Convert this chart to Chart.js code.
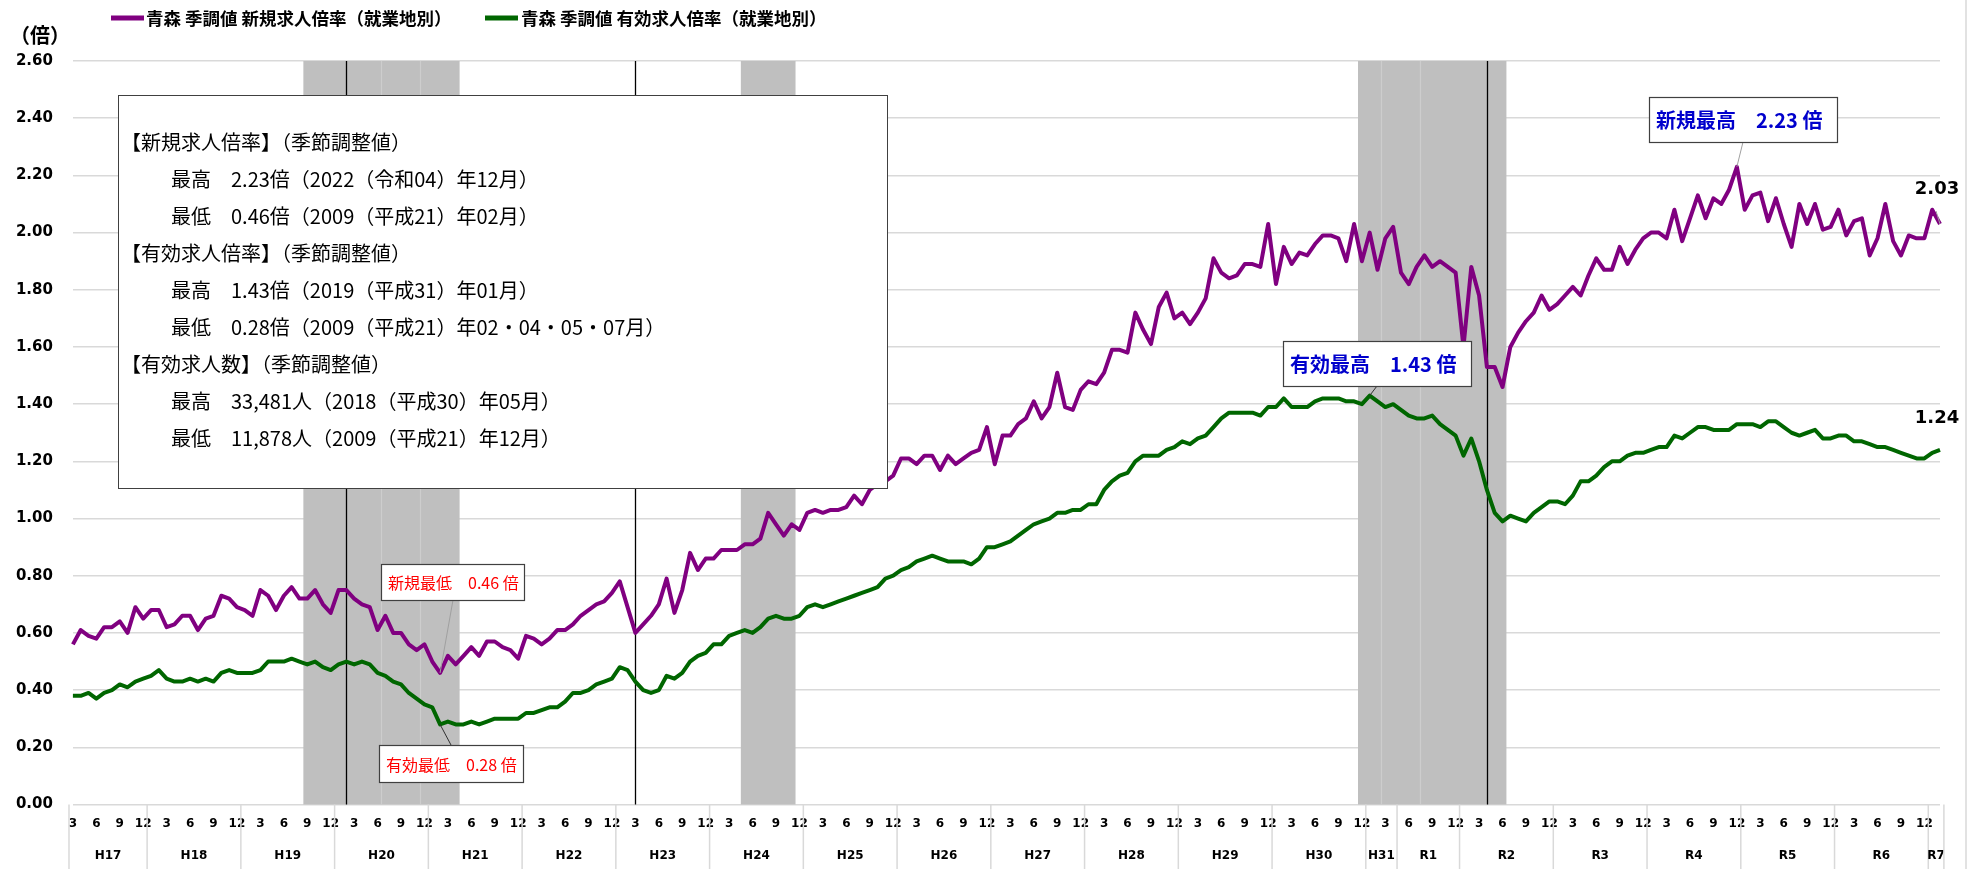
<!DOCTYPE html>
<html lang="ja">
<head>
<meta charset="utf-8">
<title>青森 求人倍率（季節調整値）</title>
<script src="https://cdn.jsdelivr.net/npm/chart.js@4/dist/chart.umd.min.js"></script>
<style>
  html, body { margin: 0; padding: 0; background: #fff; }
  #wrap { width: 1984px; height: 869px; }
</style>
</head>
<body>
<div id="wrap"><canvas id="chart" width="1984" height="869"></canvas></div>
<script>
// ===== データ =====
// [年区分ラベル, 西暦, 開始月, 月数]
const yearGroups = [
  ['H17', 2005, 3, 10], ['H18', 2006, 1, 12], ['H19', 2007, 1, 12], ['H20', 2008, 1, 12],
  ['H21', 2009, 1, 12], ['H22', 2010, 1, 12], ['H23', 2011, 1, 12], ['H24', 2012, 1, 12],
  ['H25', 2013, 1, 12], ['H26', 2014, 1, 12], ['H27', 2015, 1, 12], ['H28', 2016, 1, 12],
  ['H29', 2017, 1, 12], ['H30', 2018, 1, 12], ['H31', 2019, 1, 4],  ['R1', 2019, 5, 8],
  ['R2', 2020, 1, 12],  ['R3', 2021, 1, 12],  ['R4', 2022, 1, 12],  ['R5', 2023, 1, 12],
  ['R6', 2024, 1, 12],  ['R7', 2025, 1, 2],
];

// 新規求人倍率（季節調整値）
const newRatio = [
  0.56, 0.61, 0.59, 0.58, 0.62, 0.62, 0.64, 0.60, 0.69, 0.65,
  0.68, 0.68, 0.62, 0.63, 0.66, 0.66, 0.61, 0.65, 0.66, 0.73, 0.72, 0.69,
  0.68, 0.66, 0.75, 0.73, 0.68, 0.73, 0.76, 0.72, 0.72, 0.75, 0.70, 0.67,
  0.75, 0.75, 0.72, 0.70, 0.69, 0.61, 0.66, 0.60, 0.60, 0.56, 0.54, 0.56,
  0.50, 0.46, 0.52, 0.49, 0.52, 0.55, 0.52, 0.57, 0.57, 0.55, 0.54, 0.51,
  0.59, 0.58, 0.56, 0.58, 0.61, 0.61, 0.63, 0.66, 0.68, 0.70, 0.71, 0.74,
  0.78, 0.69, 0.60, 0.63, 0.66, 0.70, 0.79, 0.67, 0.75, 0.88, 0.82, 0.86,
  0.86, 0.89, 0.89, 0.89, 0.91, 0.91, 0.93, 1.02, 0.98, 0.94, 0.98, 0.96,
  1.02, 1.03, 1.02, 1.03, 1.03, 1.04, 1.08, 1.05, 1.10, 1.12, 1.13, 1.15,
  1.21, 1.21, 1.19, 1.22, 1.22, 1.17, 1.22, 1.19, 1.21, 1.23, 1.24, 1.32,
  1.19, 1.29, 1.29, 1.33, 1.35, 1.41, 1.35, 1.39, 1.51, 1.39, 1.38, 1.45,
  1.48, 1.47, 1.51, 1.59, 1.59, 1.58, 1.72, 1.66, 1.61, 1.74, 1.79, 1.70,
  1.72, 1.68, 1.72, 1.77, 1.91, 1.86, 1.84, 1.85, 1.89, 1.89, 1.88, 2.03,
  1.82, 1.95, 1.89, 1.93, 1.92, 1.96, 1.99, 1.99, 1.98, 1.90, 2.03, 1.90,
  2.00, 1.87, 1.98, 2.02, 1.86, 1.82, 1.88, 1.92, 1.88, 1.90, 1.88, 1.86,
  1.60, 1.88, 1.78, 1.53, 1.53, 1.46, 1.60, 1.65, 1.69, 1.72, 1.78, 1.73,
  1.75, 1.78, 1.81, 1.78, 1.85, 1.91, 1.87, 1.87, 1.95, 1.89, 1.94, 1.98,
  2.00, 2.00, 1.98, 2.08, 1.97, 2.05, 2.13, 2.05, 2.12, 2.10, 2.15, 2.23,
  2.08, 2.13, 2.14, 2.04, 2.12, 2.03, 1.95, 2.10, 2.03, 2.10, 2.01, 2.02,
  2.08, 1.99, 2.04, 2.05, 1.92, 1.98, 2.10, 1.97, 1.92, 1.99, 1.98, 1.98,
  2.08, 2.03,
];

// 有効求人倍率（季節調整値）
const activeRatio = [
  0.38, 0.38, 0.39, 0.37, 0.39, 0.40, 0.42, 0.41, 0.43, 0.44,
  0.45, 0.47, 0.44, 0.43, 0.43, 0.44, 0.43, 0.44, 0.43, 0.46, 0.47, 0.46,
  0.46, 0.46, 0.47, 0.50, 0.50, 0.50, 0.51, 0.50, 0.49, 0.50, 0.48, 0.47,
  0.49, 0.50, 0.49, 0.50, 0.49, 0.46, 0.45, 0.43, 0.42, 0.39, 0.37, 0.35,
  0.34, 0.28, 0.29, 0.28, 0.28, 0.29, 0.28, 0.29, 0.30, 0.30, 0.30, 0.30,
  0.32, 0.32, 0.33, 0.34, 0.34, 0.36, 0.39, 0.39, 0.40, 0.42, 0.43, 0.44,
  0.48, 0.47, 0.43, 0.40, 0.39, 0.40, 0.45, 0.44, 0.46, 0.50, 0.52, 0.53,
  0.56, 0.56, 0.59, 0.60, 0.61, 0.60, 0.62, 0.65, 0.66, 0.65, 0.65, 0.66,
  0.69, 0.70, 0.69, 0.70, 0.71, 0.72, 0.73, 0.74, 0.75, 0.76, 0.79, 0.80,
  0.82, 0.83, 0.85, 0.86, 0.87, 0.86, 0.85, 0.85, 0.85, 0.84, 0.86, 0.90,
  0.90, 0.91, 0.92, 0.94, 0.96, 0.98, 0.99, 1.00, 1.02, 1.02, 1.03, 1.03,
  1.05, 1.05, 1.10, 1.13, 1.15, 1.16, 1.20, 1.22, 1.22, 1.22, 1.24, 1.25,
  1.27, 1.26, 1.28, 1.29, 1.32, 1.35, 1.37, 1.37, 1.37, 1.37, 1.36, 1.39,
  1.39, 1.42, 1.39, 1.39, 1.39, 1.41, 1.42, 1.42, 1.42, 1.41, 1.41, 1.40,
  1.43, 1.41, 1.39, 1.40, 1.38, 1.36, 1.35, 1.35, 1.36, 1.33, 1.31, 1.29,
  1.22, 1.28, 1.20, 1.10, 1.02, 0.99, 1.01, 1.00, 0.99, 1.02, 1.04, 1.06,
  1.06, 1.05, 1.08, 1.13, 1.13, 1.15, 1.18, 1.20, 1.20, 1.22, 1.23, 1.23,
  1.24, 1.25, 1.25, 1.29, 1.28, 1.30, 1.32, 1.32, 1.31, 1.31, 1.31, 1.33,
  1.33, 1.33, 1.32, 1.34, 1.34, 1.32, 1.30, 1.29, 1.30, 1.31, 1.28, 1.28,
  1.29, 1.29, 1.27, 1.27, 1.26, 1.25, 1.25, 1.24, 1.23, 1.22, 1.21, 1.21,
  1.23, 1.24,
];

// 景気後退期（網掛け）と縦線
const recessions = [['2007-09', '2009-04'], ['2012-05', '2012-11'], ['2018-12', '2020-06']];
const bandSeams = ['2008-06', '2008-11', '2019-02', '2019-07'];
const markerMonths = ['2008-02', '2011-03', '2020-04'];

const SERIES_LABELS = ['青森 季調値 新規求人倍率（就業地別）', '青森 季調値 有効求人倍率（就業地別）'];
const SERIES_COLORS = ['#800080', '#006600'];

const noteLines = [
  ['【新規求人倍率】（季節調整値）', 0],
  ['最高　2.23倍（2022（令和04）年12月）', 1],
  ['最低　0.46倍（2009（平成21）年02月）', 1],
  ['【有効求人倍率】（季節調整値）', 0],
  ['最高　1.43倍（2019（平成31）年01月）', 1],
  ['最低　0.28倍（2009（平成21）年02・04・05・07月）', 1],
  ['【有効求人数】（季節調整値）', 0],
  ['最高　33,481人（2018（平成30）年05月）', 1],
  ['最低　11,878人（2009（平成21）年12月）', 1],
];

// ===== カテゴリ生成 =====
const monthKeys = [];
const monthNums = [];
yearGroups.forEach(([, year, m0, n]) => {
  for (let k = 0; k < n; k++) {
    const m = m0 + k;
    monthKeys.push(`${year}-${String(m).padStart(2, '0')}`);
    monthNums.push(m);
  }
});
if (newRatio.length !== monthKeys.length || activeRatio.length !== monthKeys.length) {
  throw new Error(`length mismatch: labels=${monthKeys.length} new=${newRatio.length} active=${activeRatio.length}`);
}

const JP = "'Noto Sans CJK JP', 'Noto Sans', sans-serif";
const NUM = "'DejaVu Sans', Verdana, sans-serif";

function extreme(arr, fn) {
  const v = fn(...arr);
  return { v, i: arr.indexOf(v) };
}

// ===== 描画プラグイン =====
const overlay = {
  id: 'overlay',
  beforeDatasetsDraw(chart) {
    const { ctx, chartArea: a, scales: { x } } = chart;
    const half = (x.getPixelForValue(1) - x.getPixelForValue(0)) / 2;
    ctx.save();
    ctx.fillStyle = '#bfbfbf';
    recessions.forEach(([s, e]) => {
      const x1 = x.getPixelForValue(monthKeys.indexOf(s)) - half;
      const x2 = x.getPixelForValue(monthKeys.indexOf(e)) + half;
      ctx.fillRect(x1, a.top, x2 - x1, a.bottom - a.top);
    });
    // 網掛け内の継ぎ目
    ctx.strokeStyle = '#cdcdcd';
    ctx.lineWidth = 1.2;
    bandSeams.forEach(k => {
      const px = x.getPixelForValue(monthKeys.indexOf(k)) + half;
      ctx.beginPath();
      ctx.moveTo(px, a.top);
      ctx.lineTo(px, a.bottom);
      ctx.stroke();
    });
    ctx.strokeStyle = '#000';
    ctx.lineWidth = 1.3;
    markerMonths.forEach(k => {
      const px = Math.round(x.getPixelForValue(monthKeys.indexOf(k))) + 0.5;
      ctx.beginPath();
      ctx.moveTo(px, a.top);
      ctx.lineTo(px, a.bottom);
      ctx.stroke();
    });
    ctx.restore();
  },
  afterDatasetsDraw(chart) {
    const { ctx, scales: { x, y } } = chart;
    ctx.save();

    // 注記ボックス
    ctx.fillStyle = '#fff';
    ctx.fillRect(118, 95, 769, 393);
    ctx.strokeStyle = '#404040';
    ctx.lineWidth = 1;
    ctx.strokeRect(118.5, 95.5, 769, 393);
    ctx.fillStyle = '#000';
    ctx.font = `20px ${JP}`;
    ctx.textBaseline = 'middle';
    ctx.textAlign = 'left';
    noteLines.forEach(([t, indent], i) => {
      ctx.fillText(t, indent ? 171 : 121, 142 + i * 37.1);
    });

    // 吹き出し
    const nMax = extreme(newRatio, Math.max);
    const nMin = extreme(newRatio, Math.min);
    const aMax = extreme(activeRatio, Math.max);
    const aMin = extreme(activeRatio, Math.min);
    const callouts = [
      { text: `新規最低　${nMin.v.toFixed(2)} 倍`, pt: [nMin.i, nMin.v], box: [381, 564, 143, 36], from: [453, 600], color: '#ff0000', font: `16px ${JP}`, lead: '#a0a0a0' },
      { text: `有効最低　${aMin.v.toFixed(2)} 倍`, pt: [aMin.i, aMin.v], box: [379, 745, 144, 37], from: [451, 745], color: '#ff0000', font: `16px ${JP}`, lead: '#303030' },
      { text: `有効最高　${aMax.v.toFixed(2)} 倍`, pt: [aMax.i, aMax.v], box: [1283, 341, 188, 45], from: [1377, 386], color: '#0000cc', font: `bold 20px ${JP}`, lead: '#303030' },
      { text: `新規最高　${nMax.v.toFixed(2)} 倍`, pt: [nMax.i, nMax.v], box: [1649, 97, 188, 45], from: [1743, 142], color: '#0000cc', font: `bold 20px ${JP}`, lead: '#a0a0a0' },
    ];
    callouts.forEach(c => {
      const px = x.getPixelForValue(c.pt[0]);
      const py = y.getPixelForValue(c.pt[1]);
      ctx.strokeStyle = c.lead;
      ctx.lineWidth = 1;
      ctx.beginPath();
      ctx.moveTo(c.from[0], c.from[1]);
      ctx.lineTo(px, py);
      ctx.stroke();
      const [bx, by, bw, bh] = c.box;
      ctx.fillStyle = '#fff';
      ctx.fillRect(bx, by, bw, bh);
      ctx.strokeStyle = '#404040';
      ctx.lineWidth = 1.2;
      ctx.strokeRect(bx + 0.5, by + 0.5, bw, bh);
      ctx.fillStyle = c.color;
      ctx.font = c.font;
      ctx.textAlign = 'left';
      ctx.textBaseline = 'middle';
      ctx.fillText(c.text, bx + 7, by + bh / 2 + 1);
    });

    // 最新値
    const last = monthKeys.length - 1;
    ctx.fillStyle = '#000';
    ctx.font = `bold 18px ${NUM}`;
    ctx.textAlign = 'center';
    ctx.fillText(newRatio[last].toFixed(2), 1937, 189);
    ctx.fillText(activeRatio[last].toFixed(2), 1937, 418);
    ctx.strokeStyle = '#a0a0a0';
    ctx.lineWidth = 1;
    ctx.beginPath();
    ctx.moveTo(1936, 211);
    ctx.lineTo(x.getPixelForValue(last), y.getPixelForValue(newRatio[last]));
    ctx.stroke();
    ctx.restore();
  },
  afterDraw(chart) {
    const { ctx, chartArea: a, scales: { x } } = chart;
    const half = (x.getPixelForValue(1) - x.getPixelForValue(0)) / 2;
    ctx.save();

    // 年区分ラベルと区切り線
    ctx.strokeStyle = '#d9d9d9';
    ctx.lineWidth = 1.5;
    ctx.fillStyle = '#000';
    ctx.font = `bold 12px ${NUM}`;
    ctx.textAlign = 'center';
    ctx.textBaseline = 'middle';
    let idx = 0;
    yearGroups.forEach(([label, , , n]) => {
      const x1 = x.getPixelForValue(idx) - half;
      const x2 = x.getPixelForValue(idx + n - 1) + half;
      ctx.beginPath();
      ctx.moveTo(x1, a.bottom);
      ctx.lineTo(x1, 869);
      ctx.stroke();
      ctx.fillText(label, (x1 + x2) / 2, 856);
      idx += n;
    });
    const xEnd = x.getPixelForValue(idx - 1) + half;
    ctx.beginPath();
    ctx.moveTo(xEnd, a.bottom);
    ctx.lineTo(xEnd, 869);
    ctx.stroke();

    // 右枠線
    ctx.beginPath();
    ctx.moveTo(1966, 0);
    ctx.lineTo(1966, 869);
    ctx.stroke();

    // 単位
    ctx.font = `bold 20px ${JP}`;
    ctx.textAlign = 'left';
    ctx.fillText('（倍）', 10, 35);

    // 凡例
    const legendPos = [[111, 146], [485, 521]];
    ctx.font = `bold 17.5px ${JP}`;
    SERIES_LABELS.forEach((t, i) => {
      const [lx, tx] = legendPos[i];
      ctx.strokeStyle = SERIES_COLORS[i];
      ctx.lineWidth = 5;
      ctx.beginPath();
      ctx.moveTo(lx, 18);
      ctx.lineTo(lx + 33, 18);
      ctx.stroke();
      ctx.fillStyle = '#000';
      ctx.fillText(t, tx, 18);
    });
    ctx.restore();
  },
};

// ===== チャート =====
new Chart(document.getElementById('chart'), {
  type: 'line',
  data: {
    labels: monthKeys,
    datasets: [
      { label: SERIES_LABELS[0], data: newRatio, borderColor: SERIES_COLORS[0], borderWidth: 4, pointRadius: 0, tension: 0, borderJoinStyle: 'round' },
      { label: SERIES_LABELS[1], data: activeRatio, borderColor: SERIES_COLORS[1], borderWidth: 4, pointRadius: 0, tension: 0, borderJoinStyle: 'round' },
    ],
  },
  options: {
    responsive: false,
    animation: false,
    devicePixelRatio: 1,
    layout: { padding: { top: 61, right: 44, left: 0, bottom: 0 } },
    plugins: { legend: { display: false }, tooltip: { enabled: false } },
    scales: {
      x: {
        grid: { display: false, drawTicks: false },
        border: { display: false },
        ticks: {
          autoSkip: false, maxRotation: 0, minRotation: 0, padding: 12,
          color: '#000', font: { family: NUM, weight: 'bold', size: 12 },
          callback: (v, i) => (monthNums[i] % 3 === 0 ? String(monthNums[i]) : ''),
        },
        afterFit(s) { s.height = 64.5; },
      },
      y: {
        min: 0, max: 2.6,
        ticks: {
          stepSize: 0.2, padding: 20, color: '#000',
          font: { family: NUM, weight: 'bold', size: 15 },
          callback: v => Number(v).toFixed(2),
        },
        grid: { color: '#d9d9d9', lineWidth: 1.5, drawTicks: false },
        border: { display: false },
        afterFit(s) { s.width = 72.9; },
      },
    },
  },
  plugins: [overlay],
});
</script>
</body>
</html>
